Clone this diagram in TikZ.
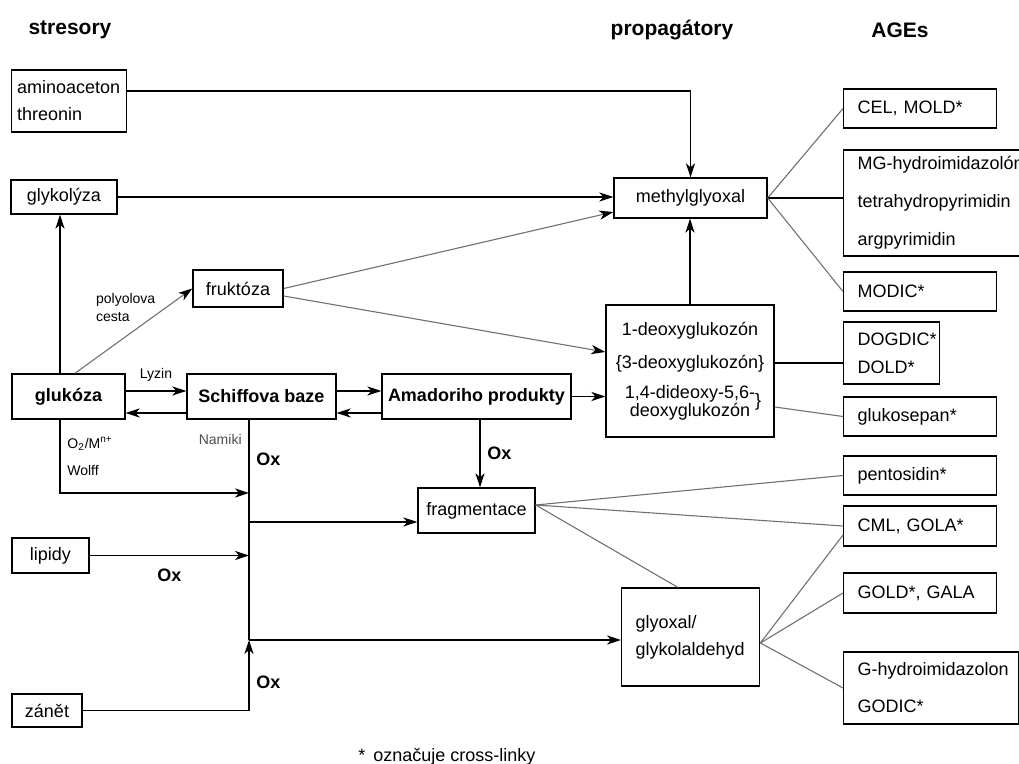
\documentclass[tikz,border=0pt]{standalone}
\usepackage{fontspec}
\setmainfont{Liberation Sans}
\usetikzlibrary{arrows.meta}
\definecolor{cgrey}{HTML}{707070}
\tikzset{
  every picture/.style={font=\fontsize{9}{13.5}\selectfont, line width=0.7pt},
  box/.style 2 args={draw, align=center, minimum width=#1, minimum height=#2, inner sep=1pt},
  lbox/.style 2 args={draw, align=left, text width=#1, minimum height=#2, inner xsep=7pt, anchor=west},
  strong/.style={font=\fontsize{9}{13.5}\selectfont\bfseries},
  title/.style={font=\fontsize{10.5}{12}\selectfont\bfseries},
  note/.style={font=\fontsize{7}{9}\selectfont, align=left},
  ox/.style={font=\fontsize{9}{11}\selectfont\bfseries},
  arrow/.style={-{Stealth[length=7pt, width=4.6pt, inset=2pt]}},
  link/.style={draw=cgrey, line width=0.55pt},
  linkarrow/.style={link, -{Stealth[length=7pt, width=4.6pt, inset=2pt, black]}},
}

\begin{document}
\begin{tikzpicture}[x=0.5pt, y=-0.5pt]
  \path[use as bounding box, clip] (0,0) rectangle (1019,764);
  % column titles
  \node[title] (tstres) at (70,30) {stresory};
  \node[title] (tprop) at (672,30) {propagátory};
  \node[title] (tage) at (900,30) {AGEs};
  % stressors
  \node[lbox={52pt}{31pt}, inner xsep=2.75pt] (amino) at (11,101) {aminoaceton\\threonin};
  \node[box={53pt}{17pt}] (glyk) at (64,197) {glykolýza};
  \node[box={56.5pt}{22.5pt}, strong] (gluk) at (68.5,396.5) {glukóza};
  \node[box={45pt}{18.5pt}] (fruk) at (238,288.5) {fruktóza};
  \node[box={74.5pt}{22.5pt}, strong] (schiff) at (261.5,396.5) {Schiffova baze};
  \node[box={94.5pt}{22.5pt}, strong] (amad) at (476.5,396.5) {Amadoriho produkty};
  \node[box={38.5pt}{17.5pt}] (lip) at (50.5,555.5) {lipidy};
  \node[box={35pt}{16.5pt}] (zan) at (47,710.5) {zánět};
  % propagators
  \node[box={76.5pt}{20pt}] (mgo) at (690.5,198) {methylglyoxal};
  \node[box={84pt}{66pt}] (deox) at (690,371)
    {1-deoxyglukozón\\[3pt]\{3-deoxyglukozón\}\\[1.5pt]1,4-dideoxy-5,6-\rlap{\raisebox{-4pt}{\}}}\\[-4.5pt]deoxyglukozón};
  \node[box={58.5pt}{22.5pt}] (frag) at (476.5,510.5) {fragmentace};
  \node[lbox={55pt}{49pt}] (glyox) at (621,637) {glyoxal/\\glykolaldehyd};
  % AGEs
  \node[lbox={62.5pt}{19.5pt}] (cel) at (843,108.5) {CEL, MOLD*};
  \node[lbox={90pt}{52pt}] (mg) at (843,203)
    {\mbox{MG-hydroimidazolón}\\[5.5pt]tetrahydropyrimidin\\[5.5pt]argpyrimidin};
  \node[lbox={62.5pt}{19.5pt}] (modic) at (843,291.5) {MODIC*};
  \node[lbox={34pt}{31pt}] (dog) at (843,353) {\mbox{DOGDIC*}\\[0.5pt]DOLD*};
  \node[lbox={62.5pt}{19.5pt}] (gsep) at (843,416.5) {glukosepan*};
  \node[lbox={62.5pt}{19.5pt}] (pent) at (843,475.5) {pentosidin*};
  \node[lbox={62.5pt}{20pt}] (cml) at (843,526) {CML, GOLA*};
  \node[lbox={62.5pt}{20pt}] (gold) at (843,593) {GOLD*, GALA};
  \node[lbox={73.5pt}{36pt}] (ghyd) at (843,688) {\mbox{G-hydroimidazolon}\\[5pt]GODIC*};
  \node[anchor=base west] (fnote) at (351,762) {*\hspace{4pt}označuje cross-linky};

  % stressors into methylglyoxal
  \draw[arrow] ([yshift=5pt]amino.east) -| (mgo.north);
  \draw[arrow] (glyk.east) -- (glyk.east -| mgo.west);
  \draw[arrow] ([xshift=-4.25pt]gluk.north) -- ([xshift=-4.25pt]gluk.north |- glyk.south);
  \draw[linkarrow] ([xshift=3.25pt]gluk.north) -- node[note, pos=0.78, left=2pt]{polyolova\\cesta} (fruk.west);
  \draw[linkarrow] (fruk.east) -- ([yshift=-7pt]mgo.west);
  \draw[linkarrow] ([yshift=-3.75pt]fruk.east) -- ([yshift=9.5pt]deox.west);
  % glycation chain
  \draw[arrow] ([yshift=2.75pt]gluk.east) -- node[note, above=1pt]{Lyzin} ([yshift=2.75pt]schiff.west);
  \draw[arrow] ([yshift=-8.25pt]schiff.west) -- ([yshift=-8.25pt]gluk.east);
  \draw[arrow] ([yshift=2.75pt]schiff.east) -- ([yshift=2.75pt]amad.west);
  \draw[arrow] ([yshift=-8.25pt]amad.west) -- ([yshift=-8.25pt]schiff.east);
  \draw[arrow] (amad.east) -- (amad.east -| deox.west);
  \draw[arrow] (deox.north) -- (deox.north |- mgo.south);
  \draw[arrow] ([xshift=1.75pt]amad.south) -- node[ox, midway, right]{Ox} ([xshift=1.75pt]amad.south |- frag.north);
  % oxidative trunk
  \coordinate (jtop) at ([xshift=-6.25pt]schiff.south);
  \coordinate (jw) at (249,493);
  \coordinate (jf) at (249,522);
  \coordinate (jl) at (249,557);
  \coordinate (jg) at (249,640);
  \draw (jtop) -- node[note, pos=0.09, left, text=black!70]{Namiki} node[ox, pos=0.18, right]{Ox} (jg);
  \draw[arrow] ([xshift=-4.25pt]gluk.south) |- node[note, pos=0.25, right]{O\textsubscript{2}/M\textsuperscript{n+}\\[4.5pt]Wolff} (jw);
  \draw[arrow] (jf) -- (jf -| frag.west);
  \draw[arrow] (lip.east) -- node[ox, midway, below=3pt]{Ox} (lip.east -| jl);
  \draw[arrow] (jg) -- (jg -| glyox.west);
  \draw[arrow] (zan.east) -| node[ox, pos=0.7, right]{Ox} (jg);
  % propagators to AGEs
  \draw[link] (mgo.east) -- (cel.west);
  \draw (mgo.east) -- (mgo.east -| mg.west);
  \draw[link] (mgo.east) -- (modic.west);
  \draw ([yshift=4pt]deox.east) -- ([yshift=4pt]deox.east -| dog.west);
  \draw[link] ([yshift=-18pt]deox.east) -- (gsep.west);
  \draw[link] ([yshift=2.75pt]frag.east) -- (pent.west);
  \draw[link] ([yshift=2.75pt]frag.east) -- (cml.west);
  \draw[link] ([yshift=2.75pt]frag.east) -- ([xshift=-6.5pt]glyox.north);
  \draw[link] ([yshift=-3pt]glyox.east) -- ([yshift=-4.5pt]cml.west);
  \draw[link] ([yshift=-3pt]glyox.east) -- (gold.west);
  \draw[link] ([yshift=-3pt]glyox.east) -- (ghyd.west);
\end{tikzpicture}
\end{document}
